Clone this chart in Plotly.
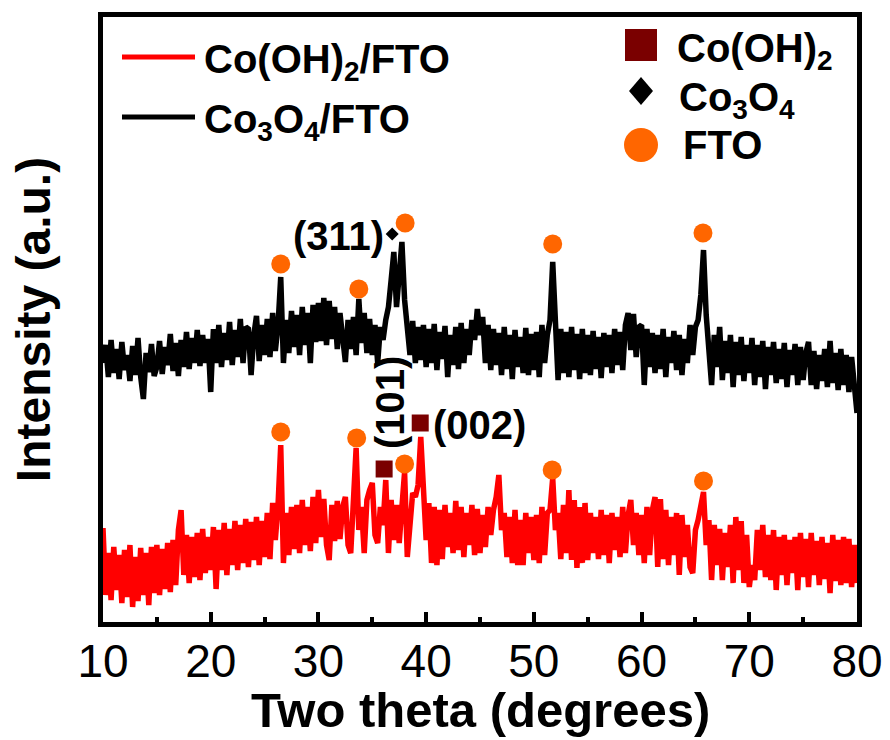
import numpy as np
import plotly.graph_objects as go

# ---------------- data ----------------
two_theta = np.round(np.arange(10.0, 80.0001, 0.25), 2)

co3o4_fto = [
    262, 280, 248, 285, 252, 276, 246, 283, 255, 270, 244, 279, 250, 287, 248, 226, 272, 253, 281, 249,
    258, 284, 251, 278, 260, 291, 254, 282, 249, 285, 258, 293, 256, 287, 262, 295, 259, 290, 262, 286,
    233, 296, 262, 300, 258, 292, 265, 303, 260, 295, 268, 306, 262, 298, 296, 250, 290, 309, 264, 300,
    270, 306, 268, 312, 274, 300, 348, 262, 305, 272, 314, 278, 310, 270, 318, 280, 312, 262, 320, 283,
    322, 284, 327, 280, 324, 286, 318, 276, 312, 280, 263, 305, 276, 308, 270, 326, 282, 312, 272, 306,
    270, 300, 262, 298, 285, 305, 318, 345, 373, 318, 348, 383, 325, 302, 270, 304, 262, 298, 265, 300,
    258, 296, 262, 301, 255, 293, 266, 299, 248, 290, 260, 298, 256, 302, 262, 296, 270, 305, 285, 316,
    290, 308, 262, 300, 255, 296, 260, 292, 250, 298, 256, 290, 246, 295, 258, 288, 252, 297, 250, 291,
    255, 293, 248, 300, 262, 290, 305, 363, 290, 245, 296, 252, 293, 248, 298, 255, 291, 246, 296, 252,
    290, 250, 294, 256, 288, 247, 292, 258, 290, 252, 296, 260, 293, 255, 300, 312, 275, 311, 268, 298,
    300, 240, 296, 258, 292, 252, 290, 256, 296, 248, 288, 262, 294, 255, 290, 250, 286, 262, 300, 270,
    298, 305, 330, 375, 310, 282, 240, 290, 258, 298, 245, 284, 252, 290, 238, 283, 250, 288, 244, 280,
    252, 287, 240, 280, 248, 284, 236, 278, 250, 283, 242, 276, 246, 282, 238, 275, 250, 281, 240, 278,
    245, 272, 283, 240, 274, 236, 270, 244, 276, 238, 284, 242, 272, 235, 276, 240, 270, 233, 268, 240,
    212,
]

co_oh2_fto = [
    97, 30, 72, 25, 78, 35, 70, 22, 75, 28, 80, 18, 68, 24, 77, 30, 72, 20, 78, 32,
    80, 30, 76, 36, 82, 33, 85, 40, 95, 115, 50, 90, 42, 88, 48, 92, 45, 96, 52, 88,
    55, 98, 36, 95, 55, 102, 50, 96, 60, 104, 55, 100, 62, 106, 58, 103, 65, 108, 60, 104,
    68, 112, 66, 122, 85, 120, 180, 62, 112, 70, 118, 76, 120, 72, 125, 80, 118, 74, 128, 82,
    135, 88, 126, 80, 65, 120, 84, 124, 86, 118, 128, 80, 72, 115, 177, 95, 118, 72, 125, 135,
    142, 90, 82, 118, 100, 145, 72, 125, 85, 120, 82, 118, 153, 68, 108, 132, 128, 140, 188, 130,
    85, 122, 62, 118, 60, 115, 66, 120, 78, 112, 72, 124, 75, 118, 68, 112, 80, 120, 70, 116,
    72, 110, 78, 118, 90, 115, 128, 150, 95, 112, 68, 108, 62, 115, 60, 105, 60, 112, 72, 108,
    65, 110, 62, 118, 70, 112, 115, 147, 95, 112, 66, 120, 72, 135, 65, 125, 57, 118, 62, 122,
    65, 112, 72, 108, 66, 115, 70, 110, 62, 112, 75, 108, 68, 118, 72, 110, 125, 80, 112, 70,
    110, 62, 118, 70, 115, 128, 58, 126, 66, 115, 60, 108, 70, 112, 50, 110, 68, 100, 58, 52,
    95, 105, 118, 133, 80, 105, 45, 100, 60, 96, 45, 92, 58, 100, 42, 108, 55, 104, 42, 90,
    38, 60, 45, 95, 55, 100, 48, 90, 45, 95, 35, 88, 50, 90, 40, 85, 52, 88, 35, 92,
    48, 86, 38, 92, 50, 84, 40, 88, 46, 82, 32, 90, 44, 85, 40, 88, 42, 86, 38, 80,
    42,
]

fto_on_co3o4_x = [26.5, 33.75, 38.05, 51.75, 65.7]
fto_on_co3o4_y = [361, 336, 402, 381, 392]
fto_on_cooh2_x = [26.5, 33.55, 38.0, 51.7, 65.75]
fto_on_cooh2_y = [193, 187, 161, 155, 144]
cooh2_peak_x = [36.1, 39.45]
cooh2_peak_y = [156, 202]
co3o4_peak_x = [36.85]
co3o4_peak_y = [391]

x_ticks = [10, 20, 30, 40, 50, 60, 70, 80]
x_tick_labels = ["10", "20", "30", "40", "50", "60", "70", "80"]

# ---------------- style ----------------
FONT = "Liberation Sans, Arial, Helvetica, sans-serif"
ORANGE = "#FF6600"
MAROON = "#7A0000"
W, H = 890, 740
ML, MR, MT, MB = 103, 33, 17, 118
PW, PH = W - ML - MR, H - MT - MB


def px(xp):
    return (xp - ML) / PW


def py(yp):
    return (H - MB - yp) / PH


fig = go.Figure()
fig.add_trace(go.Scatter(x=two_theta, y=co_oh2_fto, mode="lines",
                         line=dict(color="#FF0000", width=5.5), name="Co(OH)2/FTO",
                         showlegend=False))
fig.add_trace(go.Scatter(x=two_theta, y=co3o4_fto, mode="lines",
                         line=dict(color="#000000", width=5.5), name="Co3O4/FTO",
                         showlegend=False))
fig.add_trace(go.Scatter(x=fto_on_co3o4_x + fto_on_cooh2_x, y=fto_on_co3o4_y + fto_on_cooh2_y,
                         mode="markers", marker=dict(symbol="circle", size=19, color=ORANGE),
                         name="FTO", showlegend=False))
fig.add_trace(go.Scatter(x=cooh2_peak_x, y=cooh2_peak_y, mode="markers",
                         marker=dict(symbol="square", size=17, color=MAROON),
                         name="Co(OH)2", showlegend=False))
fig.add_trace(go.Scatter(x=co3o4_peak_x, y=co3o4_peak_y, mode="markers",
                         marker=dict(symbol="diamond", size=10, color="#000000"),
                         name="Co3O4", showlegend=False))

# peak labels
lab_font = dict(family=FONT, size=40, color="black", weight="bold")
fig.add_annotation(x=36.25, y=389, text="(311)", showarrow=False, xanchor="right",
                   yanchor="middle", font=lab_font)
fig.add_annotation(x=40.45, y=200, text="(002)", showarrow=False, xanchor="left",
                   yanchor="middle", font=lab_font)
fig.add_annotation(x=36.65, y=222, text="(101)", showarrow=False, textangle=-90,
                   xanchor="center", yanchor="middle", font=lab_font)

# x axis title (placed as paper annotation so it sits exactly below the tick labels)
fig.add_annotation(x=0.5, y=py(710), xref="paper", yref="paper", text="Two theta (degrees)",
                   showarrow=False, xanchor="center", yanchor="middle",
                   font=dict(family=FONT, size=49, color="black", weight="bold"))

# manual legend
leg_font = dict(family=FONT, size=40, color="black", weight="bold")
shapes = []
for color, yy in (("#FF0000", 57), ("#000000", 117)):
    shapes.append(dict(type="line", xref="paper", yref="paper", x0=px(122), x1=px(195),
                       y0=py(yy), y1=py(yy), line=dict(color=color, width=5)))
shapes.append(dict(type="rect", xref="paper", yref="paper", x0=px(625), x1=px(657),
                   y0=py(61), y1=py(29), fillcolor=MAROON, line=dict(width=0)))
cx, cy = 641, 91
shapes.append(dict(type="path", xref="paper", yref="paper",
                   path=f"M {px(cx)} {py(cy-14)} L {px(cx+12)} {py(cy)} L {px(cx)} {py(cy+14)} L {px(cx-12)} {py(cy)} Z",
                   fillcolor="black", line=dict(width=0)))
shapes.append(dict(type="circle", xref="paper", yref="paper", x0=px(624), x1=px(658),
                   y0=py(162), y1=py(128), fillcolor=ORANGE, line=dict(width=0)))

for txt, xx, yy in (("Co(OH)<sub>2</sub>/FTO", 202, 62),
                    ("Co<sub>3</sub>O<sub>4</sub>/FTO", 202, 122),
                    ("Co(OH)<sub>2</sub>", 675, 51),
                    ("Co<sub>3</sub>O<sub>4</sub>", 677, 100),
                    ("FTO", 681, 145)):
    fig.add_annotation(x=px(xx), y=py(yy), xref="paper", yref="paper", text=txt,
                       showarrow=False, xanchor="left", yanchor="middle", font=leg_font)

fig.update_layout(
    width=W, height=H,
    margin=dict(l=ML, r=MR, t=MT, b=MB),
    paper_bgcolor="white", plot_bgcolor="white",
    font=dict(family=FONT, color="black"),
    shapes=shapes,
    showlegend=False,
)
fig.update_xaxes(
    range=[10, 80], tickmode="array", tickvals=x_ticks, ticktext=x_tick_labels,
    ticks="inside", ticklen=10, tickwidth=4, tickcolor="black",
    minor=dict(dtick=5, tick0=10, ticks="inside", ticklen=5, tickwidth=4, tickcolor="black"),
    showline=True, linewidth=5, linecolor="black", mirror=True, showgrid=False, zeroline=False,
    tickfont=dict(family=FONT, size=46, color="black"), automargin=False,
    ticklabelstandoff=-5,
)
fig.update_yaxes(
    range=[3, 608], showticklabels=False, ticks="", automargin=False,
    showline=True, linewidth=5, linecolor="black", mirror=True, showgrid=False, zeroline=False,
    title=dict(text="Intensity (a.u.)", font=dict(family=FONT, size=48, color="black", weight="bold"),
               standoff=34),
)

fig.write_html("out.html")
